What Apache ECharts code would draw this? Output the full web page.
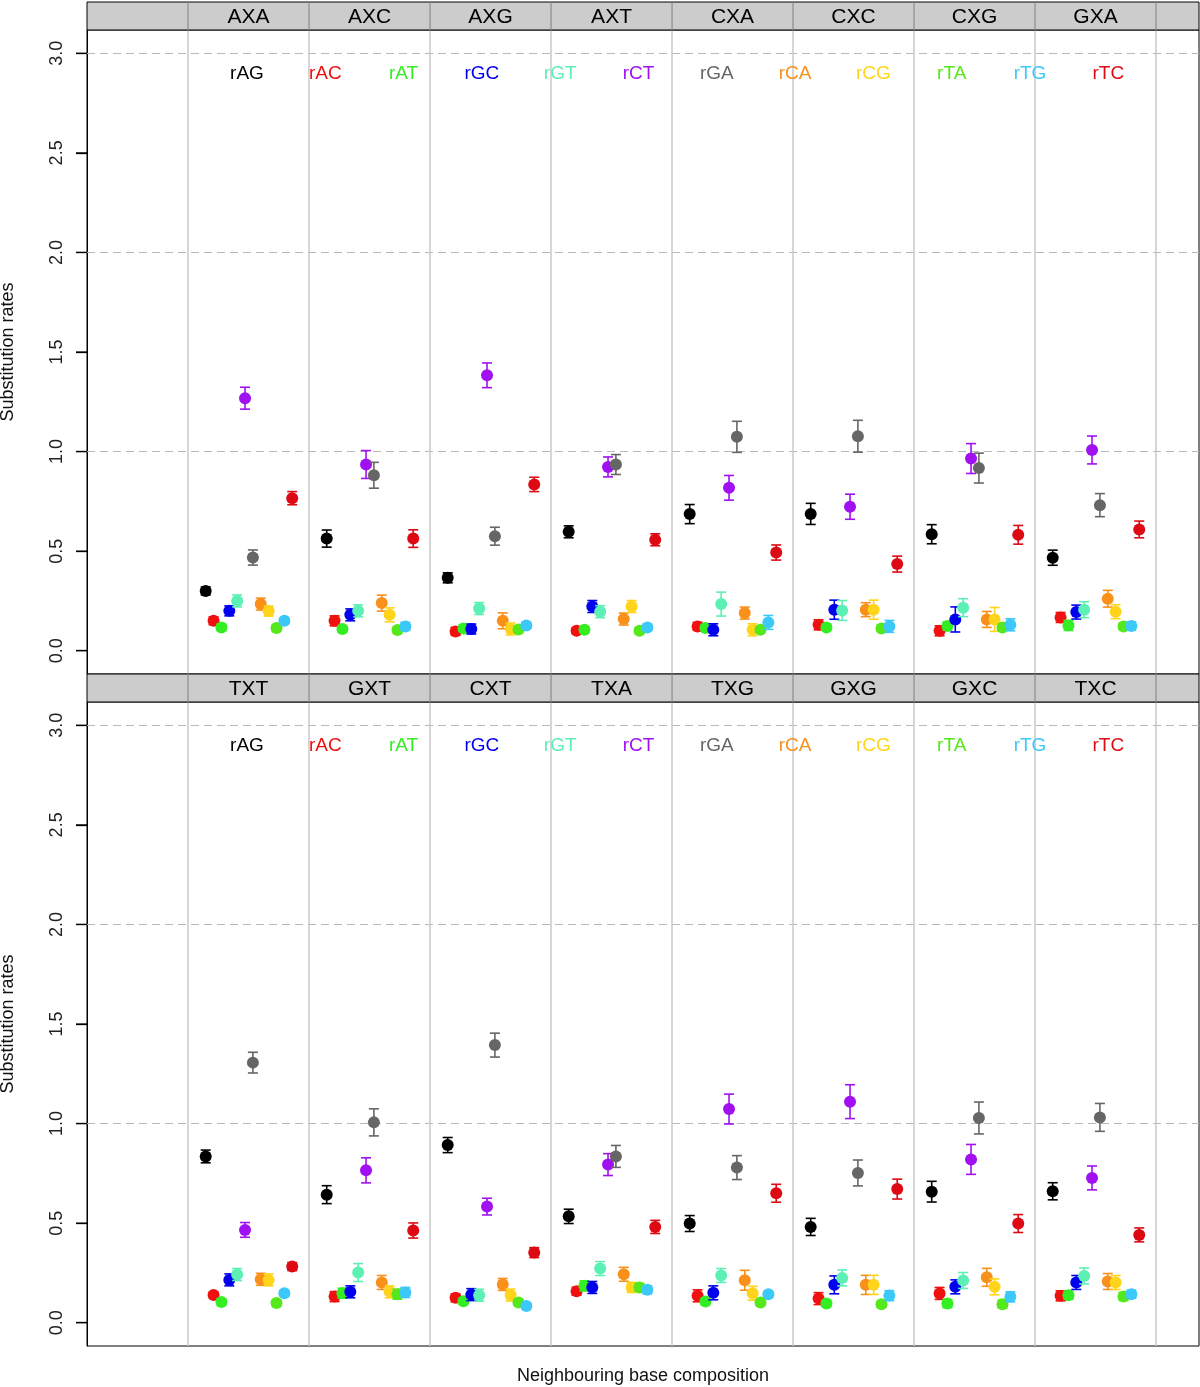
<!DOCTYPE html>
<html><head><meta charset="utf-8">
<script src="https://cdn.jsdelivr.net/npm/echarts@6/dist/echarts.min.js"></script>
<style>html,body{margin:0;padding:0;background:#fff}#c{width:1200px;height:1387px}</style>
</head><body><div id="c"></div>
<script>
// ---------------- data ----------------
const topFacets = ['AXA','AXC','AXG','AXT','CXA','CXC','CXG','GXA'];
const bottomFacets = ['TXT','GXT','CXT','TXA','TXG','GXG','GXC','TXC'];
const rates = ['rAG','rAC','rAT','rGC','rGT','rCT','rGA','rCA','rCG','rTA','rTG','rTC'];
const rateColors = ['#000000','#f01010','#33ee22','#0000ee','#5cf0b4','#a010f0','#666666','#f8901a','#ffd41a','#55e81a','#3cc8f8','#dd0a14'];
const yTicks = [0, 0.5, 1, 1.5, 2, 2.5, 3];
const refLines = [1, 2, 3];

// per rate: 16 facets (8 top, then 8 bottom), mean and half-width of error bar
const rAG_mean = [0.300,0.563,0.366,0.597,0.686,0.687,0.585,0.467, 0.835,0.643,0.892,0.534,0.498,0.481,0.658,0.660];
const rAG_err  = [0.020,0.043,0.025,0.030,0.048,0.053,0.048,0.038, 0.032,0.045,0.038,0.036,0.040,0.043,0.052,0.043];
const rAC_mean = [0.150,0.150,0.097,0.100,0.122,0.130,0.100,0.167, 0.139,0.131,0.125,0.158,0.135,0.121,0.147,0.135];
const rAC_err  = [0.020,0.025,0.020,0.015,0.020,0.025,0.025,0.025, 0.015,0.025,0.020,0.020,0.030,0.030,0.030,0.025];
const rAT_mean = [0.117,0.109,0.112,0.105,0.114,0.117,0.124,0.127, 0.104,0.148,0.108,0.185,0.106,0.096,0.096,0.138];
const rAT_err  = [0.015,0.015,0.015,0.015,0.015,0.015,0.020,0.025, 0.015,0.025,0.015,0.025,0.015,0.015,0.020,0.020];
const rGC_mean = [0.200,0.180,0.109,0.222,0.105,0.206,0.157,0.194, 0.215,0.155,0.141,0.177,0.150,0.190,0.180,0.202];
const rGC_err  = [0.025,0.030,0.025,0.030,0.030,0.048,0.063,0.035, 0.030,0.030,0.030,0.030,0.035,0.045,0.035,0.035];
const rGT_mean = [0.250,0.200,0.212,0.196,0.234,0.202,0.216,0.206, 0.242,0.252,0.138,0.272,0.237,0.225,0.212,0.235];
const rGT_err  = [0.030,0.030,0.030,0.030,0.060,0.050,0.045,0.040, 0.030,0.045,0.030,0.035,0.035,0.040,0.040,0.040];
const rCT_mean = [1.268,0.935,1.383,0.923,0.818,0.723,0.965,1.008, 0.466,0.765,0.583,0.794,1.073,1.110,0.820,0.727];
const rCT_err  = [0.055,0.070,0.062,0.050,0.062,0.063,0.075,0.070, 0.037,0.063,0.042,0.055,0.075,0.085,0.075,0.060];
const rGA_mean = [0.468,0.881,0.575,0.935,1.074,1.077,0.917,0.731, 1.306,1.006,1.394,0.835,0.779,0.752,1.028,1.031];
const rGA_err  = [0.038,0.065,0.045,0.050,0.078,0.080,0.075,0.058, 0.052,0.068,0.060,0.055,0.060,0.065,0.080,0.070];
const rCA_mean = [0.234,0.239,0.150,0.159,0.189,0.206,0.157,0.261, 0.218,0.202,0.192,0.243,0.213,0.190,0.228,0.207];
const rCA_err  = [0.030,0.040,0.040,0.030,0.030,0.035,0.040,0.042, 0.030,0.035,0.030,0.035,0.050,0.048,0.045,0.040];
const rCG_mean = [0.199,0.180,0.109,0.222,0.105,0.206,0.157,0.196, 0.215,0.155,0.139,0.177,0.148,0.190,0.180,0.202];
const rCG_err  = [0.025,0.035,0.030,0.030,0.030,0.048,0.060,0.035, 0.030,0.030,0.030,0.025,0.035,0.048,0.040,0.035];
const rTA_mean = [0.114,0.104,0.107,0.100,0.105,0.112,0.117,0.122, 0.099,0.143,0.101,0.177,0.101,0.093,0.093,0.132];
const rTA_err  = [0.015,0.015,0.015,0.015,0.015,0.015,0.015,0.015, 0.015,0.025,0.015,0.020,0.015,0.015,0.020,0.020];
const rTG_mean = [0.150,0.122,0.127,0.117,0.142,0.122,0.130,0.124, 0.148,0.152,0.084,0.165,0.143,0.136,0.130,0.143];
const rTG_err  = [0.015,0.020,0.015,0.015,0.035,0.030,0.030,0.020, 0.015,0.025,0.015,0.020,0.015,0.025,0.025,0.020];
const rTC_mean = [0.766,0.563,0.835,0.557,0.493,0.435,0.582,0.609, 0.282,0.463,0.352,0.481,0.650,0.671,0.498,0.441];
const rTC_err  = [0.033,0.044,0.036,0.030,0.038,0.040,0.047,0.042, 0.020,0.038,0.025,0.033,0.045,0.050,0.045,0.035];

const means = [rAG_mean,rAC_mean,rAT_mean,rGC_mean,rGT_mean,rCT_mean,rGA_mean,rCA_mean,rCG_mean,rTA_mean,rTG_mean,rTC_mean];
const errs  = [rAG_err,rAC_err,rAT_err,rGC_err,rGT_err,rCT_err,rGA_err,rCA_err,rCG_err,rTA_err,rTG_err,rTC_err];

// ---------------- layout ----------------
const FONT = "'Liberation Sans', Arial, Helvetica, sans-serif";
const GRID_LEFT = 87, GRID_W = 1112, GRID_H = 644;
const panelTops = [30, 702];
const STRIP_H = 28;
const X_MIN = -0.835, X_MAX = 8.355;   // facet boundaries at integers 0..8
const OFF = 0.146, SP = 0.065;          // position of rate j within a facet
const xPos = (g, j) => g + OFF + j * SP;

const chart = echarts.init(document.getElementById('c'), null, {renderer: 'canvas'});

const grids = [], xAxes = [], yAxes = [], series = [];
panelTops.forEach((top, p) => {
  grids.push({left: GRID_LEFT, top: top, width: GRID_W, height: GRID_H, containLabel: false, outerBoundsMode: 'none',
    show: true, borderColor: '#000', borderWidth: 1, backgroundColor: 'transparent'});
  xAxes.push({type: 'value', gridIndex: p, min: X_MIN, max: X_MAX,
    axisLine: {show: false, onZero: false}, axisTick: {show: false}, axisLabel: {show: false}, splitLine: {show: false},
    name: p === 1 ? 'Neighbouring base composition' : '', nameLocation: 'middle', nameGap: 21,
    nameTextStyle: {fontSize: 18, fontFamily: FONT, color: '#111', verticalAlign: 'top'}});
  yAxes.push({type: 'value', gridIndex: p, min: -0.117, max: 3.117,
    axisLine: {show: true, onZero: false, lineStyle: {color: '#000', width: 1}},
    axisTick: {show: true, inside: false, length: 11, customValues: yTicks, lineStyle: {color: '#000', width: 1.3}},
    axisLabel: {show: true, customValues: yTicks, rotate: 90, margin: 21, fontSize: 18, fontFamily: FONT, color: '#222',
      formatter: v => v.toFixed(1)},
    splitLine: {show: false},
    name: 'Substitution rates', nameLocation: 'middle', nameGap: 70, nameRotate: 90,
    nameTextStyle: {fontSize: 18, fontFamily: FONT, color: '#111'}});

  // reference lines
  const ml = [];
  refLines.forEach(v => ml.push({yAxis: v, lineStyle: {color: '#b8b8b8', type: [8, 5], width: 1}}));
  for (let g = 0; g <= 8; g++) ml.push({xAxis: g, lineStyle: {color: '#c8c8c8', type: 'solid', width: 1.5}});
  series.push({type: 'line', xAxisIndex: p, yAxisIndex: p, data: [], z: 1, silent: true,
    markLine: {silent: true, symbol: ['none', 'none'], label: {show: false}, animation: false, data: ml}});

  rates.forEach((r, j) => {
    const ebData = [], ptData = [];
    for (let g = 0; g < 8; g++) {
      const k = p * 8 + g;
      const m = means[j][k], e = errs[j][k];
      ebData.push([xPos(g, j), m - e, m + e]);
      ptData.push([xPos(g, j), m]);
    }
    const col = rateColors[j];
    series.push({type: 'custom', name: r + '_err', xAxisIndex: p, yAxisIndex: p, z: 3 + j * 2, silent: true,
      animation: false, data: ebData,
      renderItem: (params, api) => {
        const x = api.value(0);
        const a = api.coord([x, api.value(1)]), b = api.coord([x, api.value(2)]);
        const hw = 5, st = {stroke: col, lineWidth: 1.6};
        return {type: 'group', children: [
          {type: 'line', shape: {x1: a[0], y1: a[1], x2: b[0], y2: b[1]}, style: st},
          {type: 'line', shape: {x1: a[0] - hw, y1: a[1], x2: a[0] + hw, y2: a[1]}, style: st},
          {type: 'line', shape: {x1: b[0] - hw, y1: b[1], x2: b[0] + hw, y2: b[1]}, style: st}
        ]};
      }});
    series.push({type: 'scatter', name: r, xAxisIndex: p, yAxisIndex: p, z: 4 + j * 2, silent: true,
      animation: false, symbol: 'circle', symbolSize: 12, itemStyle: {color: col, opacity: 1}, data: ptData});
  });
});

chart.setOption({
  animation: false,
  backgroundColor: '#fff',
  grid: grids, xAxis: xAxes, yAxis: yAxes, series: series
});

// strips and keys (positions from the axis scale)
const graphics = [];
const facetSets = [topFacets, bottomFacets];
panelTops.forEach((top, p) => {
  const sy = top - STRIP_H;
  graphics.push({type: 'rect', shape: {x: GRID_LEFT, y: sy, width: GRID_W, height: STRIP_H},
    style: {fill: '#cccccc', stroke: '#000', lineWidth: 1}, z: 10});
  for (let g = 0; g <= 8; g++) {
    const px = chart.convertToPixel({xAxisIndex: p}, g);
    graphics.push({type: 'line', shape: {x1: px, y1: sy, x2: px, y2: top}, style: {stroke: '#808080', lineWidth: 1}, z: 11});
  }
  facetSets[p].forEach((f, g) => {
    const px = chart.convertToPixel({xAxisIndex: p}, g + 0.5);
    graphics.push({type: 'text', x: px, y: sy + STRIP_H / 2 + 1, z: 12,
      style: {text: f, fill: '#000', font: '21px ' + FONT, align: 'center', verticalAlign: 'middle'}});
  });
  rates.forEach((r, j) => {
    graphics.push({type: 'text', x: 247 + j * 78.3, y: top + 44, z: 12,
      style: {text: r, fill: rateColors[j], font: '19px ' + FONT, align: 'center', verticalAlign: 'middle'}});
  });
  // y-axis tick marks (outward), placed with the axis scale
  yTicks.forEach(v => {
    const py = chart.convertToPixel({yAxisIndex: p}, v);
    graphics.push({type: 'line', shape: {x1: GRID_LEFT - 11, y1: py, x2: GRID_LEFT, y2: py},
      style: {stroke: '#000', lineWidth: 1.2}, z: 12});
  });
});
chart.setOption({graphic: graphics});
</script></body></html>
